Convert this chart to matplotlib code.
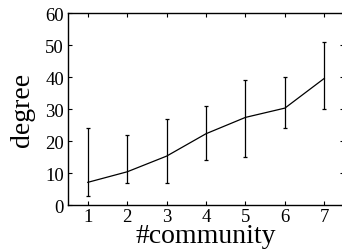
import matplotlib
matplotlib.use("Agg")
import matplotlib.pyplot as plt
import numpy as np

communities = [1, 2, 3, 4, 5, 6, 7]
degree_mean = [7.1, 10.4, 15.3, 22.3, 27.4, 30.3, 39.6]
degree_low = [2.9, 7.0, 7.0, 14.0, 14.9, 24.2, 30.1]
degree_high = [24.0, 22.0, 27.0, 31.0, 39.1, 40.1, 51.0]

plt.rcParams["font.family"] = ["Liberation Serif", "DejaVu Serif"]

fig = plt.figure(figsize=(3.42, 2.51), dpi=100)
ax = fig.add_axes([0.199, 0.179, 0.807, 0.765])

mean = np.array(degree_mean)
yerr = [mean - np.array(degree_low), np.array(degree_high) - mean]
ax.errorbar(communities, mean, yerr=yerr, color="black", linewidth=0.9,
            elinewidth=0.9, capsize=1.5, capthick=0.9)

ax.set_xlim(0.5, 7.5)
ax.set_ylim(0, 60)
ax.set_xticks(communities)
ax.set_yticks([0, 10, 20, 30, 40, 50, 60])
ax.tick_params(direction="in", top=True, right=True, length=3, width=0.8,
               labelsize=13.5)
ax.tick_params(axis="x", pad=2)
ax.tick_params(axis="y", pad=3)
for s in ax.spines.values():
    s.set_linewidth(1.0)

ax.set_xlabel("#community", fontsize=20)
ax.xaxis.label.set_va("baseline")
ax.xaxis.set_label_coords(0.5, -0.193)
ax.set_ylabel("degree", fontsize=20)
ax.yaxis.set_label_coords(-0.118, 0.5)

fig.savefig("out.png", dpi=100)
